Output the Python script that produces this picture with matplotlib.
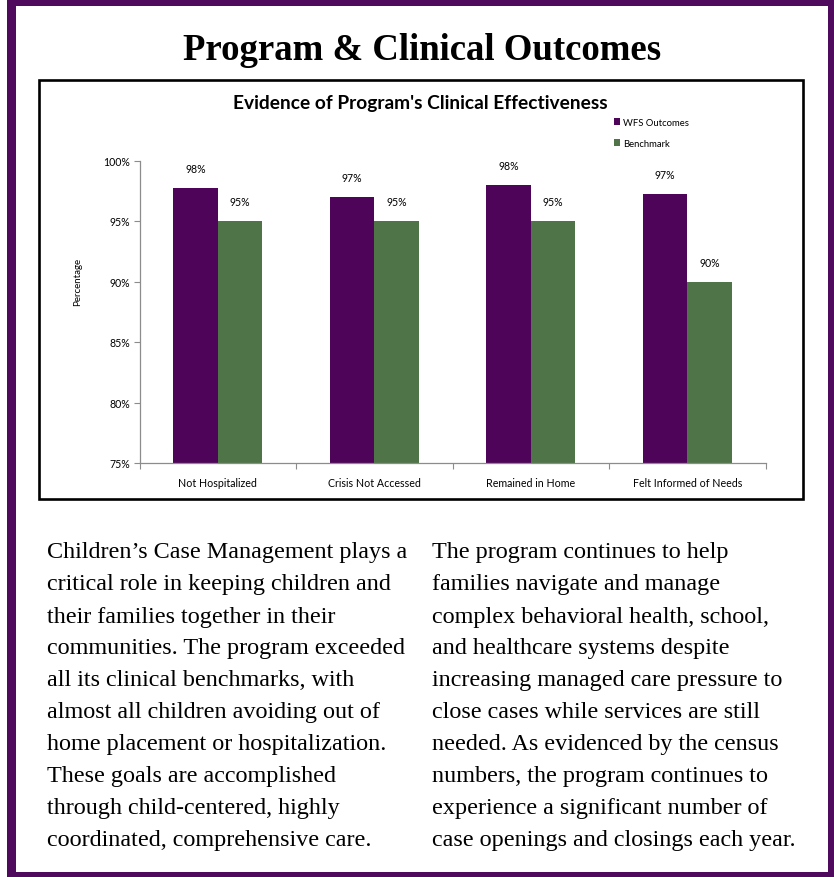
import matplotlib
matplotlib.use('Agg')
import matplotlib.pyplot as plt
from matplotlib.patches import Rectangle
import numpy as np

categories = ['Not Hospitalized', 'Crisis Not Accessed', 'Remained in Home', 'Felt Informed of Needs']
wfs = [97.7, 97.0, 98.0, 97.2]
benchmark = [95.0, 95.0, 95.0, 90.0]
wfs_labels = ['98%', '97%', '98%', '97%']
bench_labels = ['95%', '95%', '95%', '90%']
yticks = [75, 80, 85, 90, 95, 100]

left_text = [
    "Children\u2019s Case Management plays a",
    "critical role in keeping children and",
    "their families together in their",
    "communities. The program exceeded",
    "all its clinical benchmarks, with",
    "almost all children avoiding out of",
    "home placement or hospitalization.",
    "These goals are accomplished",
    "through child-centered, highly",
    "coordinated, comprehensive care.",
]
right_text = [
    "The program continues to help",
    "families navigate and manage",
    "complex behavioral health, school,",
    "and healthcare systems despite",
    "increasing managed care pressure to",
    "close cases while services are still",
    "needed. As evidenced by the census",
    "numbers, the program continues to",
    "experience a significant number of",
    "case openings and closings each year.",
]

W, H = 834, 878
PURPLE = '#4e0458'
GREEN = '#4f7447'
FRAME = '#4f0a5e'

def fx(x):
    return x / W

def fy(y):
    return 1 - y / H

fig = plt.figure(figsize=(W / 100, H / 100), dpi=100)

# purple frame
for x0, y0, x1, y1 in [(7, 0, 16, 878), (7, 0, 834, 7), (828, 0, 834, 878), (7, 873, 834, 878)]:
    fig.patches.append(Rectangle((fx(x0), fy(y1)), fx(x1) - fx(x0), fy(y0) - fy(y1),
                                 transform=fig.transFigure, facecolor=FRAME, edgecolor='none'))

# chart box
fig.patches.append(Rectangle((fx(39), fy(500)), fx(803) - fx(39), fy(81) - fy(500),
                             transform=fig.transFigure, facecolor='none', edgecolor='black', linewidth=1.9))

fig.text(fx(422), fy(50), 'Program & Clinical Outcomes', ha='center', va='center',
         family='Liberation Serif', weight='bold', fontsize=26.5)

ax = fig.add_axes([fx(139.5), fy(464), fx(765.5) - fx(139.5), fy(161.5) - fy(464)])
x = np.arange(len(categories))
bw = 0.285
b1 = ax.bar(x - bw / 2, [v - 75 for v in wfs], bw, bottom=75, color=PURPLE, label='WFS Outcomes')
b2 = ax.bar(x + bw / 2, [v - 75 for v in benchmark], bw, bottom=75, color=GREEN, label='Benchmark')

for xi, v, lab in zip(x, wfs, wfs_labels):
    ax.annotate(lab, (xi - bw / 2, v), xytext=(0, 14), textcoords='offset points',
                ha='center', va='center', fontsize=7.6, family='Lato')
for xi, v, lab in zip(x, benchmark, bench_labels):
    ax.annotate(lab, (xi + bw / 2, v), xytext=(0, 14), textcoords='offset points',
                ha='center', va='center', fontsize=7.6, family='Lato')

ax.set_xlim(-0.5, len(categories) - 0.5)
ax.set_ylim(75, 100)
ax.set_yticks(yticks)
ax.set_yticklabels([f'{t}%' for t in yticks], fontsize=7.6, family='Lato')
ax.set_xticks(x)
ax.set_xticklabels(categories, fontsize=7.7, family='Lato')
ax.set_xticks(np.arange(len(categories) + 1) - 0.5, minor=True)
ax.tick_params(axis='x', which='major', length=0, pad=10)
ax.tick_params(axis='x', which='minor', length=4, color='#8c8c8c', width=0.8)
ax.tick_params(axis='y', length=4, color='#8c8c8c', width=0.8, pad=3)
for s in ['top', 'right']:
    ax.spines[s].set_visible(False)
for s in ['left', 'bottom']:
    ax.spines[s].set_color('#8c8c8c')
    ax.spines[s].set_linewidth(0.9)

fig.text(fx(78), fy(282), 'Percentage', rotation=90, ha='center', va='center', fontsize=7, family='Lato')
fig.text(fx(420), fy(104), "Evidence of Program's Clinical Effectiveness", ha='center', va='center',
         fontsize=13.8, weight='bold', family='Lato')

fig.legend(handles=[b1, b2], loc='upper left', bbox_to_anchor=(fx(605), fy(110)), frameon=False,
           handlelength=0.7, handleheight=0.7, handletextpad=0.3, labelspacing=1.3,
           prop={'family': 'Lato', 'size': 6.8})

for i, line in enumerate(left_text):
    fig.text(fx(47), fy(553 + i * 32), line, ha='left', va='center', family='Liberation Serif', fontsize=17.4)
for i, line in enumerate(right_text):
    fig.text(fx(432), fy(553 + i * 32), line, ha='left', va='center', family='Liberation Serif', fontsize=17.4)

fig.savefig('out.png', dpi=100)
